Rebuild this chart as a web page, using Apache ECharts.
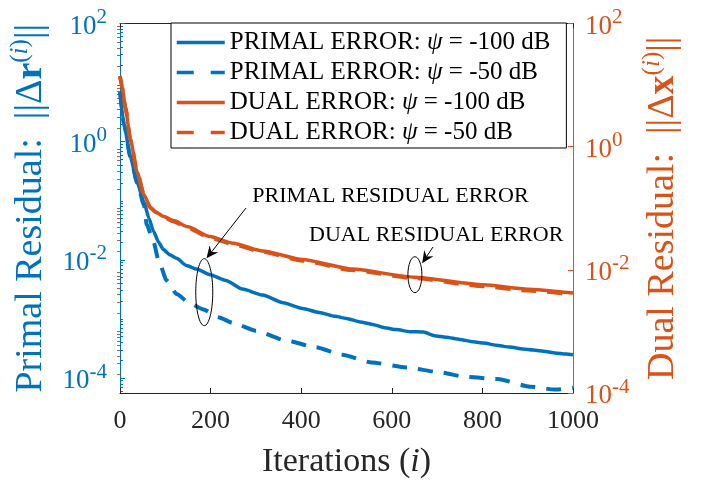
<!DOCTYPE html>
<html><head><meta charset="utf-8">
<script src="https://cdn.jsdelivr.net/npm/echarts@6/dist/echarts.min.js"></script>
<style>html,body{margin:0;padding:0;background:#fff}#c{width:705px;height:484px}</style>
</head><body><div id="c"></div>
<script>
// ---------- data ----------
const iterPrimal100 = [0,9,23,38,53,64,74,85,96,110,125,147,169,199,234,270,315,360,403,440,475,500,530,560,584,610,640,670,694,720,750,780,803,830,860,890,912,940,960,985,1000];
const primal100 = [6.9,1.93,0.55,0.202,0.094,0.05,0.0305,0.02,0.0149,0.0122,0.0106,0.0080,0.0070,0.0056,0.00447,0.0032,0.00254,0.00188,0.0015,0.00129,0.00111,0.00102,0.00089,0.0008,0.00071,0.00066,0.00061,0.0006,0.00052,0.00049,0.00045,0.00041,0.00039,0.00036,0.000334,0.00031,0.000298,0.00028,0.000266,0.000255,0.000247];
const iterPrimal50 = [0,9,23,38,53,59,74,85,103,125,155,184,217,250,300,366,431,490,556,632,705,764,834,906,961,1000];
const primal50 = [6.9,1.93,0.55,0.2,0.084,0.0396,0.0201,0.00985,0.00447,0.00264,0.00181,0.00145,0.00107,0.000853,0.000632,0.000434,0.000333,0.000247,0.000183,0.000151,0.000125,0.000104,0.0000964,0.0000713,0.0000637,0.0000687];
const iterDual = [0,5,12,23,38,53,67,80,95,118,150,198,250,315,403,512,650,803,900,1000];
const dual100 = [14,9,4.3,1.3,0.383,0.165,0.103,0.086,0.0743,0.063,0.0499,0.0348,0.027,0.0202,0.0147,0.0103,0.0076,0.0057,0.00486,0.0042];
const dual50 = [14,9,4.3,1.3,0.383,0.165,0.102,0.085,0.073,0.061,0.048,0.0335,0.026,0.0195,0.0141,0.0099,0.0073,0.0054,0.0046,0.004];

const seriesNames = ['PRIMAL ERROR: ψ = -100 dB','PRIMAL ERROR: ψ = -50 dB','DUAL ERROR: ψ = -100 dB','DUAL ERROR: ψ = -50 dB'];
const leftMajor = [1e-4,1e-2,1,100];
const rightMajor = [1e-4,1e-2,1,100];
const minorMult = [2,3,4,5,6,7,8,9];
const decades = [-5,-4,-3,-2,-1,0,1];
const oddDecades = [1e-3,1e-1,10];

// annotations (data coordinates on bottom x axis / left y axis)
const annoTexts = [
  {text:'PRIMAL RESIDUAL ERROR', at:[597,0.118]},
  {text:'DUAL RESIDUAL ERROR', at:[698,0.0262]}
];
const annoEllipses = [{at:[186,0.00284], rx:8.5, ry:33.5},{at:[651,0.0056], rx:7, ry:18}];
const annoArrows = [{from:[278,0.0752], to:[191,0.0106]},{from:[691,0.0165], to:[667,0.0088]}];

// ---------- styling ----------
const FONT = 'Liberation Serif';
const BLUE = '#0072BD', ORANGE = '#D95319', AX = '#262626';
const LEFT_MIN = 5.58e-5, LEFT_MAX = 100, RIGHT_MIN = 1e-4, RIGHT_MAX = 100;

function zip(a,b){return a.map((v,i)=>[v,b[i]]);}
function minorVals(lo,hi){
  const out=[];
  decades.forEach(d=>minorMult.forEach(m=>{const v=m*Math.pow(10,d); if(v>lo&&v<hi) out.push(v);}));
  oddDecades.forEach(v=>{if(v>lo&&v<hi) out.push(v);});
  return out;
}
function powLabel(v){
  const e = Math.round(Math.log10(v));
  return '{b|10}{s|' + e + '}';
}
function labelRich(color){
  return {
    b:{fontFamily:FONT,fontSize:27,color:color,lineHeight:30,verticalAlign:'bottom',padding:[13,0,0,0]},
    s:{fontFamily:FONT,fontSize:21,color:color,lineHeight:33,verticalAlign:'top'}
  };
}
function nameRich(color){
  return {
    t:{fontFamily:FONT,fontSize:38,color:color,lineHeight:42,verticalAlign:'bottom'},
    b:{fontFamily:FONT,fontSize:38,fontWeight:'bold',color:color,lineHeight:42,verticalAlign:'bottom'},
    s:{fontFamily:FONT,fontSize:25,color:color,lineHeight:25,verticalAlign:'top'},
    si:{fontFamily:FONT,fontSize:25,fontStyle:'italic',color:color,lineHeight:25,verticalAlign:'top'}
  };
}

const chart = echarts.init(document.getElementById('c'), null, {renderer:'canvas'});
const lineBase = {type:'line', showSymbol:false, symbol:'none', smooth:0.2, smoothMonotone:'x', animation:false, z:3};
const legendDash = [17,17];

const option = {
  animation:false,
  backgroundColor:'#fff',
  grid:{left:116,right:132,top:17.5,bottom:84.5,containLabel:false},
  legend:{
    data:[
      {name:seriesNames[0]},
      {name:seriesNames[1],lineStyle:{type:legendDash}},
      {name:seriesNames[2]},
      {name:seriesNames[3],lineStyle:{type:legendDash}}
    ],
    orient:'vertical', left:171, top:23,
    padding:[7,16,3,4], itemGap:5, itemWidth:48, itemHeight:25,
    backgroundColor:'#fff', borderColor:'#000', borderWidth:1, borderRadius:0,
    itemStyle:{opacity:0,borderWidth:0},
    lineStyle:{width:3.5},
    textStyle:{fontFamily:FONT,fontSize:25,color:'#000',lineHeight:25,
      rich:{i:{fontFamily:FONT,fontSize:25,fontStyle:'italic',color:'#000',lineHeight:25}}},
    formatter:function(n){return n.replace('ψ','{i|ψ}');},
    selectedMode:false
  },
  xAxis:[
    {type:'value',position:'bottom',min:0,max:1000,interval:200,
     axisLine:{show:true,onZero:false,lineStyle:{color:AX,width:1}},
     axisTick:{show:true,inside:true,length:5,lineStyle:{color:AX}},
     axisLabel:{show:true,color:AX,fontFamily:FONT,fontSize:26,margin:15,formatter:function(v){return String(v);}},
     splitLine:{show:false},
     name:'{t|Iterations (}{i|i}{t|)}', nameLocation:'middle', nameGap:52,
     nameTextStyle:{rich:{t:{fontFamily:FONT,fontSize:34,color:AX},i:{fontFamily:FONT,fontSize:34,fontStyle:'italic',color:AX}}}
    },
    {type:'value',position:'top',min:0,max:1000,interval:200,
     axisLine:{show:true,onZero:false,lineStyle:{color:AX,width:1}},
     axisTick:{show:true,inside:true,length:5,lineStyle:{color:AX}},
     axisLabel:{show:false},splitLine:{show:false}}
  ],
  yAxis:[
    {type:'log',position:'left',min:LEFT_MIN,max:LEFT_MAX,
     axisLine:{show:true,onZero:false,lineStyle:{color:BLUE,width:1}},
     axisTick:{show:true,inside:true,length:5,customValues:leftMajor,lineStyle:{color:BLUE}},
     axisLabel:{show:true,customValues:leftMajor,formatter:powLabel,rich:labelRich(BLUE),margin:13,color:BLUE},
     splitLine:{show:false},minorTick:{show:false},
     name:'{t|Primal Residual:  ||Δ}{b|r}{s|(}{si|i}{s|)}{t|||}', nameLocation:'middle', nameRotate:90, nameGap:70,
     nameTextStyle:{rich:nameRich(BLUE)}
    },
    {type:'log',position:'left',min:LEFT_MIN,max:LEFT_MAX,
     axisLine:{show:false},axisLabel:{show:false},splitLine:{show:false},
     axisTick:{show:true,inside:true,length:3,customValues:minorVals(LEFT_MIN,LEFT_MAX),lineStyle:{color:BLUE}}},
    {type:'log',position:'right',min:RIGHT_MIN,max:RIGHT_MAX,
     axisLine:{show:true,onZero:false,lineStyle:{color:ORANGE,width:1}},
     axisTick:{show:true,inside:true,length:5,customValues:rightMajor,lineStyle:{color:ORANGE}},
     axisLabel:{show:true,customValues:rightMajor,formatter:powLabel,rich:labelRich(ORANGE),margin:12,color:ORANGE},
     splitLine:{show:false},
     name:'{t|Dual Residual:  ||Δ}{b|x}{s|(}{si|i}{s|)}{t|||}', nameLocation:'middle', nameRotate:90, nameGap:61,
     nameTextStyle:{rich:nameRich(ORANGE)}
    },
    {type:'log',position:'right',min:RIGHT_MIN,max:RIGHT_MAX,
     axisLine:{show:false},axisLabel:{show:false},splitLine:{show:false},
     axisTick:{show:true,inside:true,length:3,customValues:minorVals(RIGHT_MIN,RIGHT_MAX),lineStyle:{color:ORANGE}}}
  ],
  series:[
    Object.assign({},lineBase,{name:seriesNames[0],xAxisIndex:0,yAxisIndex:0,data:zip(iterPrimal100,primal100),
      itemStyle:{color:BLUE},lineStyle:{color:BLUE,width:3.5,type:'solid'}}),
    Object.assign({},lineBase,{name:seriesNames[1],xAxisIndex:0,yAxisIndex:0,data:zip(iterPrimal50,primal50),
      itemStyle:{color:BLUE},lineStyle:{color:BLUE,width:4,type:[15,11]}}),
    Object.assign({},lineBase,{name:seriesNames[2],xAxisIndex:0,yAxisIndex:2,data:zip(iterDual,dual100),
      itemStyle:{color:ORANGE},lineStyle:{color:ORANGE,width:3.5,type:'solid'}}),
    Object.assign({},lineBase,{name:seriesNames[3],xAxisIndex:0,yAxisIndex:2,data:zip(iterDual,dual50),
      itemStyle:{color:ORANGE},lineStyle:{color:ORANGE,width:4,type:[15,11]}})
  ]
};
chart.setOption(option);

// annotations positioned through the chart's own scales
function px(pt){return chart.convertToPixel({xAxisIndex:0,yAxisIndex:0},pt);}
const g = [];
annoTexts.forEach(a=>{
  const p = px(a.at);
  g.push({type:'text',x:p[0],y:p[1],z:10,style:{text:a.text,fontFamily:FONT,fontSize:22,fill:'#000',align:'center',verticalAlign:'middle'}});
});
annoEllipses.forEach(a=>{
  const p = px(a.at);
  g.push({type:'ellipse',z:10,shape:{cx:p[0],cy:p[1],rx:a.rx,ry:a.ry},style:{fill:null,stroke:'#000',lineWidth:1}});
});
annoArrows.forEach(a=>{
  const p0 = px(a.from), p1 = px(a.to);
  const dx=p1[0]-p0[0], dy=p1[1]-p0[1], L=Math.hypot(dx,dy), ux=dx/L, uy=dy/L, nx=-uy, ny=ux;
  const hl=12, hw=5.5, notch=8;
  g.push({type:'line',z:10,shape:{x1:p0[0],y1:p0[1],x2:p1[0]-ux*notch,y2:p1[1]-uy*notch},style:{stroke:'#000',lineWidth:1}});
  g.push({type:'polygon',z:10,shape:{points:[
    [p1[0],p1[1]],
    [p1[0]-ux*hl+nx*hw,p1[1]-uy*hl+ny*hw],
    [p1[0]-ux*notch,p1[1]-uy*notch],
    [p1[0]-ux*hl-nx*hw,p1[1]-uy*hl-ny*hw]
  ]},style:{fill:'#000'}});
});
chart.setOption({graphic:g});
</script>
</body></html>
